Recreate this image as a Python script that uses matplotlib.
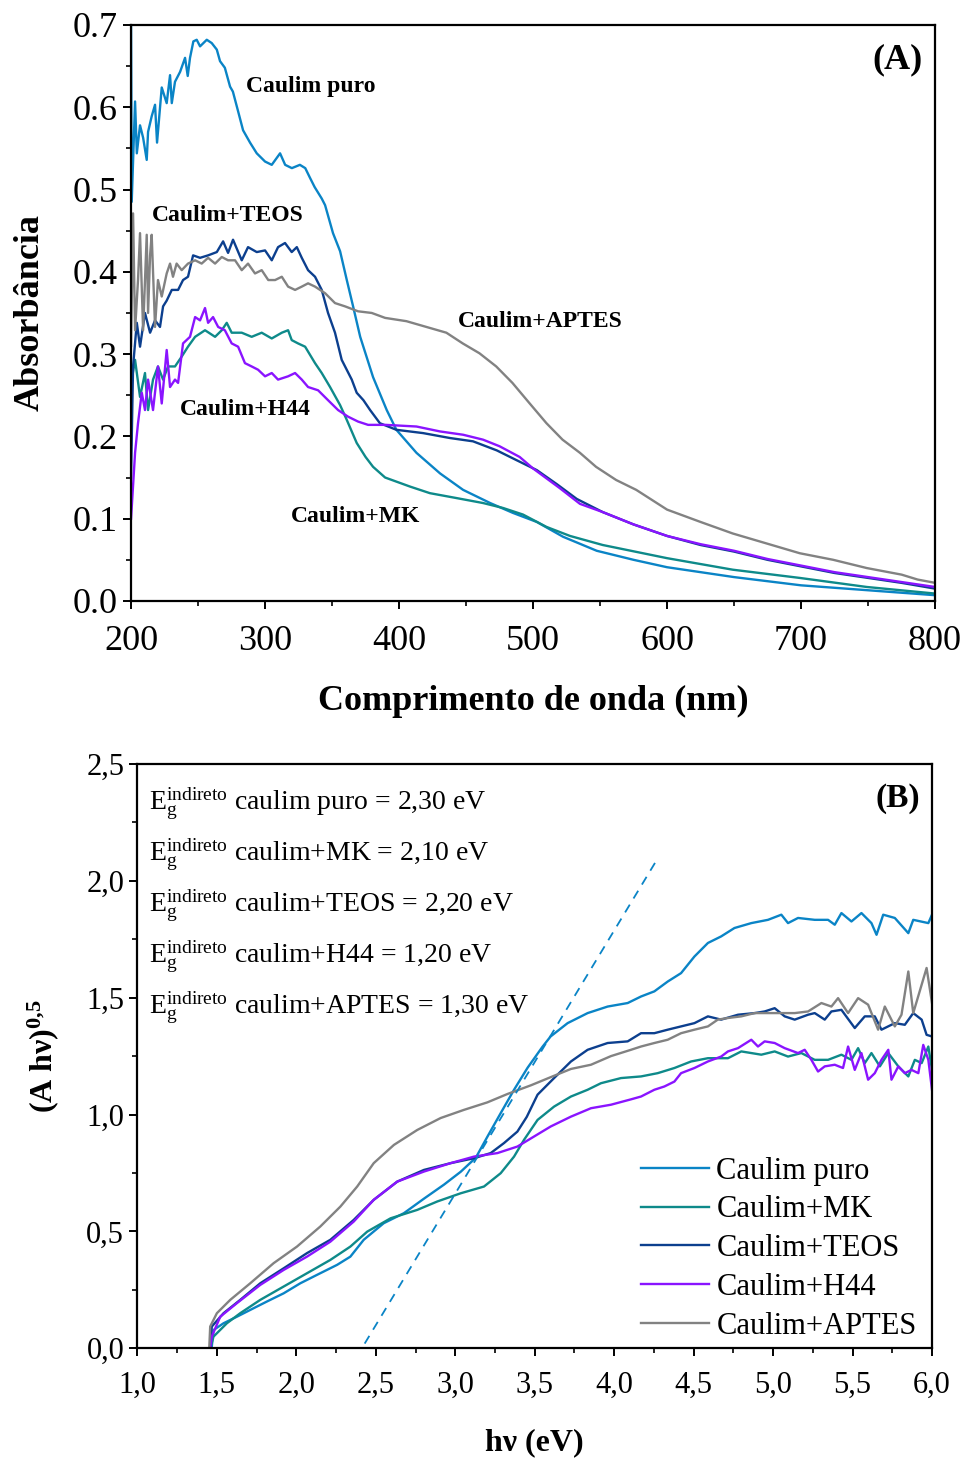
import matplotlib
matplotlib.use("Agg")
import matplotlib.pyplot as plt
from matplotlib.ticker import MultipleLocator

plt.rcParams['font.family'] = ['Liberation Serif', 'DejaVu Serif']
plt.rcParams['mathtext.fontset'] = 'custom'
plt.rcParams['mathtext.rm'] = 'Liberation Serif'
plt.rcParams['mathtext.it'] = 'Liberation Serif:italic'
plt.rcParams['mathtext.bf'] = 'Liberation Serif:bold'

# ---- panel A: absorbance vs wavelength ----
wl_puro = [199.9, 200.5, 203.0, 204.3, 206.7, 209.0, 211.7, 212.7, 215.4, 217.9, 219.4, 222.9, 226.6,
           229.1, 230.4, 232.8, 236.6, 240.3, 242.3, 244.0, 246.5, 249.0, 251.5, 256.5, 260.2, 264.0,
           266.4, 270.0, 273.9, 276.0, 279.9, 283.6, 288.8, 293.8, 300.0, 305.0, 311.2, 315.0, 320.0,
           326.0, 330.0, 333.6, 337.0, 342.3, 344.8, 350.7, 356.0, 361.0, 365.7, 371.0, 380.6, 390.8,
           398.0, 413.0, 430.6, 447.8, 468.0, 485.0, 502.8, 522.4, 547.5, 575.0, 600.0, 650.0, 700.0,
           750.0, 800.0]
abs_puro = [0.75, 0.485, 0.607, 0.544, 0.578, 0.563, 0.536, 0.570, 0.589, 0.603, 0.557, 0.624, 0.605,
            0.639, 0.605, 0.631, 0.643, 0.660, 0.638, 0.660, 0.680, 0.682, 0.674, 0.682, 0.678, 0.670,
            0.656, 0.648, 0.625, 0.619, 0.595, 0.572, 0.557, 0.544, 0.534, 0.530, 0.544, 0.530, 0.526,
            0.530, 0.526, 0.514, 0.503, 0.489, 0.481, 0.447, 0.425, 0.390, 0.358, 0.321, 0.272, 0.232,
            0.208, 0.180, 0.155, 0.135, 0.119, 0.107, 0.096, 0.078, 0.061, 0.050, 0.041, 0.029, 0.019,
            0.013, 0.007]

wl_mk = [200.0, 200.5, 203.0, 206.7, 210.4, 212.7, 216.4, 220.1, 223.9, 227.6, 232.8, 237.8, 242.5,
         247.8, 255.2, 262.7, 267.7, 271.4, 275.1, 282.6, 290.0, 297.5, 305.0, 312.5, 317.2, 319.9,
         324.6, 329.9, 337.3, 342.3, 348.5, 356.0, 361.0, 368.4, 375.0, 380.6, 389.6, 408.2, 423.0,
         443.0, 462.7, 477.6, 492.5, 510.0, 527.6, 552.0, 600.0, 649.0, 699.0, 749.0, 800.0]
abs_mk = [0.19, 0.269, 0.293, 0.248, 0.277, 0.232, 0.269, 0.285, 0.269, 0.285, 0.285, 0.297, 0.309,
          0.321, 0.329, 0.321, 0.329, 0.338, 0.326, 0.326, 0.321, 0.326, 0.319, 0.326, 0.329, 0.317,
          0.313, 0.309, 0.289, 0.277, 0.260, 0.238, 0.220, 0.192, 0.175, 0.163, 0.150, 0.139, 0.131,
          0.125, 0.119, 0.113, 0.105, 0.090, 0.079, 0.068, 0.052, 0.038, 0.028, 0.017, 0.009]

wl_teos = [200.0, 201.5, 204.3, 206.7, 210.4, 214.2, 217.9, 221.6, 223.9, 226.6, 230.4, 235.1, 238.8,
           242.5, 246.3, 251.5, 257.5, 264.0, 268.7, 272.4, 276.1, 282.6, 287.3, 293.8, 300.0, 305.0,
           309.7, 314.9, 319.9, 323.7, 327.4, 332.1, 337.3, 342.3, 347.0, 352.2, 357.2, 364.7, 368.4,
           373.4, 378.4, 385.7, 398.0, 417.9, 438.0, 455.2, 472.9, 487.8, 502.8, 517.7, 532.6, 552.0,
           575.0, 600.0, 625.0, 650.0, 675.0, 700.0, 725.0, 750.0, 775.0, 800.0]
abs_teos = [0.15, 0.285, 0.338, 0.309, 0.350, 0.326, 0.341, 0.333, 0.358, 0.365, 0.378, 0.378, 0.390,
            0.394, 0.420, 0.417, 0.420, 0.424, 0.437, 0.423, 0.439, 0.414, 0.430, 0.424, 0.426, 0.414,
            0.430, 0.435, 0.424, 0.430, 0.417, 0.402, 0.394, 0.378, 0.350, 0.326, 0.293, 0.269, 0.253,
            0.244, 0.232, 0.216, 0.208, 0.204, 0.198, 0.194, 0.183, 0.171, 0.159, 0.142, 0.124, 0.108,
            0.093, 0.079, 0.068, 0.060, 0.050, 0.042, 0.034, 0.028, 0.022, 0.015]

wl_h44 = [200.0, 203.0, 205.2, 208.0, 210.4, 212.7, 216.4, 220.1, 222.9, 226.6, 229.1, 232.8, 235.1,
          238.8, 244.0, 247.8, 251.5, 255.2, 257.5, 261.2, 265.0, 270.0, 275.1, 279.9, 285.0, 290.0,
          294.8, 300.0, 305.0, 309.7, 317.2, 322.4, 327.4, 332.1, 339.6, 347.0, 354.5, 361.9, 369.4,
          376.9, 390.0, 413.0, 430.6, 447.8, 462.7, 475.0, 490.0, 500.0, 520.0, 535.0, 552.0, 575.0,
          600.0, 625.0, 650.0, 675.0, 700.0, 725.0, 750.0, 775.0, 800.0]
abs_h44 = [0.10, 0.180, 0.216, 0.253, 0.232, 0.269, 0.232, 0.285, 0.240, 0.305, 0.260, 0.269, 0.265,
           0.313, 0.321, 0.345, 0.341, 0.356, 0.338, 0.345, 0.333, 0.329, 0.313, 0.309, 0.289, 0.285,
           0.281, 0.273, 0.277, 0.269, 0.273, 0.277, 0.269, 0.260, 0.256, 0.244, 0.232, 0.224, 0.218,
           0.214, 0.214, 0.212, 0.206, 0.202, 0.196, 0.188, 0.175, 0.161, 0.137, 0.118, 0.108, 0.093,
           0.079, 0.069, 0.061, 0.051, 0.043, 0.035, 0.029, 0.023, 0.017]

wl_aptes = [200.0, 201.5, 203.0, 205.2, 206.7, 209.0, 211.7, 212.7, 214.2, 215.4, 217.9, 220.1, 222.9,
            226.6, 229.1, 231.3, 234.0, 237.8, 242.5, 247.8, 252.7, 257.5, 262.7, 267.7, 272.4, 277.6,
            282.6, 287.3, 292.5, 297.5, 302.4, 307.5, 312.5, 317.2, 322.4, 327.4, 332.1, 337.3, 344.8,
            352.2, 359.7, 369.4, 379.6, 389.6, 405.5, 420.4, 435.3, 447.5, 460.0, 472.5, 484.6, 497.5,
            510.0, 522.0, 535.0, 547.0, 562.0, 577.0, 600.0, 625.0, 649.0, 674.0, 699.0, 724.0, 749.0,
            775.0, 787.0, 800.0]
abs_aptes = [0.31, 0.471, 0.329, 0.390, 0.447, 0.329, 0.445, 0.350, 0.420, 0.445, 0.333, 0.390, 0.370,
             0.398, 0.410, 0.394, 0.410, 0.402, 0.410, 0.414, 0.410, 0.417, 0.410, 0.418, 0.414, 0.414,
             0.402, 0.410, 0.398, 0.402, 0.390, 0.390, 0.394, 0.382, 0.378, 0.382, 0.386, 0.382, 0.374,
             0.362, 0.358, 0.352, 0.350, 0.344, 0.340, 0.333, 0.326, 0.313, 0.301, 0.285, 0.265, 0.240,
             0.216, 0.196, 0.180, 0.163, 0.147, 0.135, 0.111, 0.096, 0.082, 0.070, 0.058, 0.050, 0.040,
             0.032, 0.026, 0.022]

# ---- panel B: (A hv)^0.5 vs hv ----
ev_puro = [1.468, 1.479, 1.542, 1.626, 1.71, 1.815, 1.92, 2.025, 2.13, 2.257, 2.34, 2.424, 2.55, 2.677,
           2.803, 2.929, 3.034, 3.129, 3.203, 3.286, 3.37, 3.455, 3.549, 3.6, 3.707, 3.833, 3.959, 4.085,
           4.169, 4.253, 4.337, 4.421, 4.505, 4.59, 4.673, 4.757, 4.863, 4.968, 5.052, 5.094, 5.157,
           5.262, 5.346, 5.388, 5.43, 5.493, 5.556, 5.619, 5.651, 5.693, 5.766, 5.851, 5.882, 5.977, 6.0]
tauc_puro = [0.007, 0.078, 0.107, 0.135, 0.164, 0.200, 0.235, 0.278, 0.314, 0.357, 0.392, 0.464, 0.535,
             0.578, 0.640, 0.700, 0.755, 0.815, 0.906, 1.006, 1.106, 1.200, 1.290, 1.334, 1.391, 1.434,
             1.462, 1.477, 1.505, 1.527, 1.569, 1.605, 1.676, 1.734, 1.762, 1.798, 1.819, 1.833, 1.855,
             1.819, 1.841, 1.833, 1.833, 1.812, 1.862, 1.826, 1.862, 1.819, 1.769, 1.855, 1.841, 1.776,
             1.833, 1.819, 1.855]

ev_mk = [1.458, 1.479, 1.563, 1.647, 1.773, 1.92, 2.067, 2.214, 2.34, 2.446, 2.593, 2.761, 2.887, 3.034,
         3.181, 3.286, 3.37, 3.433, 3.518, 3.622, 3.728, 3.833, 3.917, 4.043, 4.169, 4.274, 4.379, 4.484,
         4.59, 4.716, 4.8, 4.926, 5.01, 5.094, 5.178, 5.262, 5.346, 5.43, 5.493, 5.535, 5.577, 5.619,
         5.672, 5.725, 5.788, 5.851, 5.892, 5.935, 5.977, 6.0]
tauc_mk = [0.0, 0.05, 0.107, 0.15, 0.207, 0.264, 0.321, 0.378, 0.435, 0.499, 0.556, 0.592, 0.628, 0.663,
           0.692, 0.749, 0.82, 0.892, 0.977, 1.034, 1.077, 1.106, 1.134, 1.156, 1.163, 1.177, 1.199,
           1.227, 1.241, 1.241, 1.27, 1.256, 1.27, 1.248, 1.263, 1.234, 1.234, 1.256, 1.234, 1.284,
           1.22, 1.263, 1.206, 1.263, 1.206, 1.163, 1.234, 1.22, 1.291, 1.191]

ev_teos = [1.458, 1.468, 1.542, 1.647, 1.773, 1.92, 2.067, 2.214, 2.361, 2.487, 2.635, 2.803, 2.971,
           3.118, 3.223, 3.307, 3.391, 3.45, 3.518, 3.622, 3.728, 3.833, 3.959, 4.085, 4.169, 4.253,
           4.337, 4.421, 4.505, 4.59, 4.673, 4.779, 4.884, 4.947, 5.01, 5.073, 5.136, 5.22, 5.262, 5.325,
           5.367, 5.43, 5.514, 5.577, 5.64, 5.682, 5.766, 5.829, 5.882, 5.935, 5.966, 6.0]
tauc_teos = [0.0, 0.093, 0.15, 0.207, 0.278, 0.342, 0.407, 0.464, 0.549, 0.635, 0.713, 0.763, 0.792,
             0.813, 0.835, 0.878, 0.927, 0.99, 1.085, 1.156, 1.227, 1.277, 1.306, 1.313, 1.348, 1.348,
             1.363, 1.377, 1.391, 1.42, 1.406, 1.427, 1.434, 1.441, 1.455, 1.42, 1.406, 1.427, 1.434,
             1.406, 1.441, 1.448, 1.37, 1.42, 1.42, 1.363, 1.391, 1.384, 1.434, 1.406, 1.341, 1.334]

ev_h44 = [1.458, 1.468, 1.521, 1.626, 1.773, 1.92, 2.067, 2.214, 2.361, 2.487, 2.635, 2.803, 2.971,
          3.118, 3.265, 3.391, 3.496, 3.601, 3.728, 3.854, 3.98, 4.106, 4.169, 4.253, 4.316, 4.379,
          4.421, 4.505, 4.59, 4.673, 4.716, 4.779, 4.863, 4.905, 4.947, 5.01, 5.073, 5.157, 5.199,
          5.241, 5.283, 5.325, 5.388, 5.44, 5.472, 5.514, 5.556, 5.598, 5.64, 5.682, 5.725, 5.745,
          5.788, 5.829, 5.871, 5.914, 5.945, 5.977, 6.0]
tauc_h44 = [0.0, 0.05, 0.135, 0.193, 0.271, 0.335, 0.392, 0.456, 0.542, 0.635, 0.713, 0.756, 0.792,
            0.82, 0.835, 0.863, 0.906, 0.949, 0.991, 1.027, 1.042, 1.065, 1.077, 1.106, 1.12, 1.141,
            1.177, 1.199, 1.227, 1.248, 1.27, 1.284, 1.32, 1.291, 1.313, 1.306, 1.284, 1.263, 1.277,
            1.234, 1.184, 1.206, 1.213, 1.199, 1.291, 1.191, 1.263, 1.149, 1.177, 1.234, 1.277, 1.149,
            1.206, 1.177, 1.191, 1.177, 1.298, 1.234, 1.106]

ev_aptes = [1.452, 1.458, 1.5, 1.584, 1.71, 1.857, 2.004, 2.151, 2.277, 2.383, 2.487, 2.614, 2.761,
            2.908, 3.055, 3.202, 3.329, 3.476, 3.601, 3.728, 3.854, 3.98, 4.106, 4.169, 4.253, 4.337,
            4.421, 4.505, 4.59, 4.652, 4.716, 4.8, 4.884, 4.968, 5.052, 5.136, 5.22, 5.304, 5.367, 5.409,
            5.472, 5.535, 5.598, 5.661, 5.703, 5.766, 5.808, 5.851, 5.882, 5.966, 6.0]
tauc_aptes = [0.0, 0.093, 0.15, 0.207, 0.278, 0.364, 0.435, 0.521, 0.606, 0.692, 0.792, 0.87, 0.934,
              0.985, 1.02, 1.052, 1.088, 1.125, 1.16, 1.195, 1.213, 1.25, 1.277, 1.291, 1.306, 1.32,
              1.348, 1.363, 1.377, 1.406, 1.413, 1.42, 1.434, 1.434, 1.434, 1.434, 1.441, 1.477, 1.462,
              1.498, 1.434, 1.498, 1.47, 1.363, 1.462, 1.377, 1.427, 1.612, 1.434, 1.627, 1.477]

# tangent used for the band-gap estimate
fit_ev = [2.43, 4.26]
fit_tauc = [0.02, 2.08]

names = ['Caulim puro', 'Caulim+MK', 'Caulim+TEOS', 'Caulim+H44', 'Caulim+APTES']
colors = ['#0a84c6', '#0e8a8a', '#0c3f8e', '#8a14ff', '#828282']
gap_labels = ['caulim puro = 2,30 eV', 'caulim+MK = 2,10 eV', 'caulim+TEOS = 2,20 eV',
              'caulim+H44 = 1,20 eV', 'caulim+APTES = 1,30 eV']

a_xticks = [200, 300, 400, 500, 600, 700, 800]
a_yticks = [0.0, 0.1, 0.2, 0.3, 0.4, 0.5, 0.6, 0.7]
b_xticks = [1.0, 1.5, 2.0, 2.5, 3.0, 3.5, 4.0, 4.5, 5.0, 5.5, 6.0]
b_xlabels = ['1,0', '1,5', '2,0', '2,5', '3,0', '3,5', '4,0', '4,5', '5,0', '5,5', '6,0']
b_yticks = [0.0, 0.5, 1.0, 1.5, 2.0, 2.5]
b_ylabels = ['0,0', '0,5', '1,0', '1,5', '2,0', '2,5']


def style_axes(ax, size):
    for s in ax.spines.values():
        s.set_linewidth(1.6)
    ax.tick_params(which='major', direction='out', length=6, width=1.4, labelsize=size,
                   top=False, right=False)
    ax.tick_params(which='minor', direction='out', length=3.5, width=1.2, top=False, right=False)


fig = plt.figure(figsize=(9.65, 14.59), dpi=100)

# panel A
ax1 = fig.add_axes([0.1358, 0.5881, 0.8332, 0.3948])
series_a = [(wl_puro, abs_puro), (wl_mk, abs_mk), (wl_teos, abs_teos), (wl_h44, abs_h44),
            (wl_aptes, abs_aptes)]
for (x, y), c in zip(series_a, colors):
    ax1.plot(x, y, color=c, lw=1.7)
ax1.set_xlim(200, 800)
ax1.set_ylim(0, 0.7)
ax1.set_xticks(a_xticks)
ax1.set_yticks(a_yticks)
ax1.set_yticklabels(['%.1f' % v for v in a_yticks])
ax1.xaxis.set_minor_locator(MultipleLocator(50))
ax1.yaxis.set_minor_locator(MultipleLocator(0.05))
style_axes(ax1, 26)
ax1.tick_params(axis='x', pad=11)
ax1.set_xlabel('Comprimento de onda (nm)', fontsize=26, fontweight='bold', labelpad=20)
ax1.set_ylabel('Absorbância', fontsize=26, fontweight='bold', labelpad=19)

ax1.text(285.8, 0.625, 'Caulim puro', fontsize=17, fontweight='bold', va='center')
ax1.text(215.7, 0.468, 'Caulim+TEOS', fontsize=17, fontweight='bold', va='center')
ax1.text(444.0, 0.340, 'Caulim+APTES', fontsize=17, fontweight='bold', va='center')
ax1.text(236.6, 0.233, 'Caulim+H44', fontsize=17, fontweight='bold', va='center')
ax1.text(319.4, 0.103, 'Caulim+MK', fontsize=17, fontweight='bold', va='center')
ax1.text(0.985, 0.94, '(A)', transform=ax1.transAxes, fontsize=26, fontweight='bold',
         ha='right', va='center')

# panel B
ax2 = fig.add_axes([0.1424, 0.0759, 0.8234, 0.4005])
series_b = [(ev_puro, tauc_puro), (ev_mk, tauc_mk), (ev_teos, tauc_teos), (ev_h44, tauc_h44),
            (ev_aptes, tauc_aptes)]
for (x, y), c, n in zip(series_b, colors, names):
    ax2.plot(x, y, color=c, lw=1.7, label=n)
ax2.plot(fit_ev, fit_tauc, color=colors[0], lw=1.3, ls=(0, (5, 4)))
ax2.set_xlim(1.0, 6.0)
ax2.set_ylim(0, 2.5)
ax2.set_xticks(b_xticks)
ax2.set_xticklabels(b_xlabels)
ax2.set_yticks(b_yticks)
ax2.set_yticklabels(b_ylabels)
ax2.xaxis.set_minor_locator(MultipleLocator(0.25))
ax2.yaxis.set_minor_locator(MultipleLocator(0.25))
style_axes(ax2, 22)
ax2.tick_params(axis='x', pad=10)
ax2.set_xlabel('hν (eV)', fontsize=23, fontweight='bold', labelpad=21)
ax2.set_ylabel('(A hν)$^{\\mathbf{0{,}5}}$', fontsize=23, fontweight='bold', labelpad=18)

for i, g in enumerate(gap_labels):
    ax2.text(0.015, 0.932 - i * 0.0873,
             'E$_{\\mathregular{g}}^{\\mathregular{indireto}}$ ' + g,
             transform=ax2.transAxes, fontsize=20, va='center')
ax2.text(0.985, 0.94, '(B)', transform=ax2.transAxes, fontsize=24, fontweight='bold',
         ha='right', va='center')
ax2.legend(loc='lower right', frameon=False, fontsize=22, handlelength=2.2, handletextpad=0.25,
           labelspacing=0.32, borderaxespad=0.0, bbox_to_anchor=(0.996, -0.008))

fig.savefig('out.png', dpi=100)
